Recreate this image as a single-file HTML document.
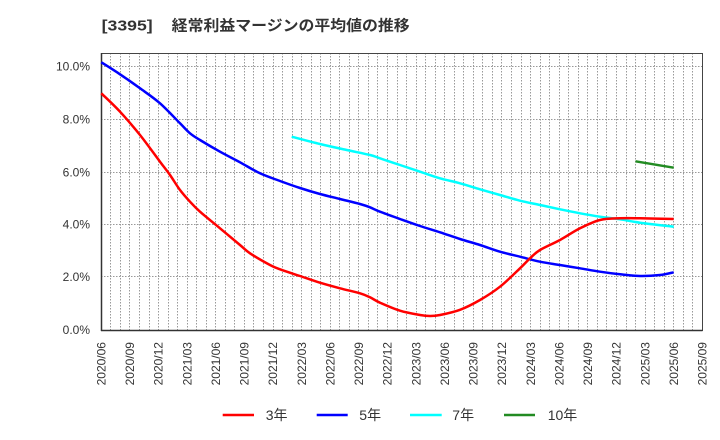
<!DOCTYPE html>
<html><head><meta charset="utf-8"><style>
html,body{margin:0;padding:0;background:#fff;}
svg{display:block;font-family:"Liberation Sans","Noto Sans CJK JP",sans-serif;}
</style></head><body>
<svg id="c" width="720" height="440" viewBox="0 0 720 440" xmlns="http://www.w3.org/2000/svg">
<rect width="720" height="440" fill="#fff"/>
<text x="101.7" y="30.5" font-size="15" font-weight="bold" fill="#333" textLength="51" lengthAdjust="spacingAndGlyphs">[3395]</text>
<text x="171.7" y="30.5" font-size="15" font-weight="bold" fill="#333" textLength="238" lengthAdjust="spacingAndGlyphs">経常利益マージンの平均値の推移</text>
<g stroke="#999" stroke-width="1" stroke-dasharray="1.5,1.5">
<path d="M110.5 53V330M120.5 53V330M129.5 53V330M139.5 53V330M149.5 53V330M158.5 53V330M168.5 53V330M177.5 53V330M187.5 53V330M196.5 53V330M206.5 53V330M215.5 53V330M225.5 53V330M234.5 53V330M244.5 53V330M253.5 53V330M263.5 53V330M273.5 53V330M282.5 53V330M292.5 53V330M301.5 53V330M311.5 53V330M320.5 53V330M330.5 53V330M339.5 53V330M349.5 53V330M358.5 53V330M368.5 53V330M377.5 53V330M387.5 53V330M397.5 53V330M406.5 53V330M416.5 53V330M425.5 53V330M435.5 53V330M444.5 53V330M454.5 53V330M463.5 53V330M473.5 53V330M482.5 53V330M492.5 53V330M501.5 53V330M511.5 53V330M521.5 53V330M530.5 53V330M540.5 53V330M549.5 53V330M559.5 53V330M568.5 53V330M578.5 53V330M587.5 53V330M597.5 53V330M606.5 53V330M616.5 53V330M626.5 53V330M635.5 53V330M645.5 53V330M654.5 53V330M664.5 53V330M673.5 53V330M683.5 53V330M692.5 53V330"/>
<path d="M101 276.5H702M101 224.5H702M101 172.5H702M101 119.5H702M101 66.5H702"/>
</g>
<rect x="101.5" y="53.5" width="601" height="277" fill="none" stroke="#444" stroke-width="1"/>
<path d="M101.5 53V331M101 330.5H702.5" stroke="#333" stroke-width="1.5" fill="none"/>
<g font-size="12" fill="#333" text-anchor="end">
<text x="90" y="334">0.0%</text>
<text x="90" y="281">2.0%</text>
<text x="90" y="228.5">4.0%</text>
<text x="90" y="176.5">6.0%</text>
<text x="90" y="123.5">8.0%</text>
<text x="90" y="70.5">10.0%</text>
</g>
<g font-size="12" fill="#333" text-anchor="end">
<text transform="translate(105.5,342) rotate(-90)">2020/06</text>
<text transform="translate(134.1,342) rotate(-90)">2020/09</text>
<text transform="translate(162.7,342) rotate(-90)">2020/12</text>
<text transform="translate(191.4,342) rotate(-90)">2021/03</text>
<text transform="translate(220,342) rotate(-90)">2021/06</text>
<text transform="translate(248.6,342) rotate(-90)">2021/09</text>
<text transform="translate(277.2,342) rotate(-90)">2021/12</text>
<text transform="translate(305.8,342) rotate(-90)">2022/03</text>
<text transform="translate(334.5,342) rotate(-90)">2022/06</text>
<text transform="translate(363.1,342) rotate(-90)">2022/09</text>
<text transform="translate(391.7,342) rotate(-90)">2022/12</text>
<text transform="translate(420.3,342) rotate(-90)">2023/03</text>
<text transform="translate(448.9,342) rotate(-90)">2023/06</text>
<text transform="translate(477.6,342) rotate(-90)">2023/09</text>
<text transform="translate(506.2,342) rotate(-90)">2023/12</text>
<text transform="translate(534.8,342) rotate(-90)">2024/03</text>
<text transform="translate(563.4,342) rotate(-90)">2024/06</text>
<text transform="translate(592,342) rotate(-90)">2024/09</text>
<text transform="translate(620.7,342) rotate(-90)">2024/12</text>
<text transform="translate(649.3,342) rotate(-90)">2025/03</text>
<text transform="translate(677.9,342) rotate(-90)">2025/06</text>
<text transform="translate(706.5,342) rotate(-90)">2025/09</text>
</g>
<g id="series" fill="none" stroke-width="2.5" stroke-linejoin="round" stroke-linecap="butt">
<polyline stroke="#00ffff" points="291.7,136.7 320,144 346.7,150 370,155 380,158.3 400,165 420,171.7 440,178.3 460,183.3 480,189.3 500,195 520,200.7 540,205 560,209.3 580,213.3 600,216.7 620,219.3 640,222.7 673.7,226.7"/>
<polyline stroke="#0000ff" points="101.3,62.3 120,74.3 140,88.3 160,103.3 180,123.3 190,133.3 200,140 220,151.7 240,162.3 260,173.3 280,181 300,188 320,194 340,199 360,204 370,207.3 380,211.7 400,219 420,226 440,232.3 460,239 480,245 500,251.7 520,256.7 540,261.7 560,265 580,268.3 600,271.7 620,274.3 640,276 660,275 673.7,272.3"/>
<polyline stroke="#ff0000" points="101.3,93.3 120,111.7 140,135 160,161.7 170,175 180,190 190,201.7 200,211.7 220,228.3 240,245 250,253.3 270,265 280,269.3 300,276 320,282.7 340,288.3 360,293.3 370,297.3 380,302.7 400,310.7 420,315 430,316 440,315 460,309.8 480,300 500,286.7 520,268.3 530,258.3 540,250 560,240 580,228.3 600,220 620,218.3 640,218.3 673.7,219"/>
<polyline stroke="#228b22" points="635.5,161.3 673.7,167.7"/>
</g>
<g stroke-width="2.5">
<line x1="222.7" y1="415" x2="254" y2="415" stroke="#ff0000"/>
<line x1="316.7" y1="415" x2="347.7" y2="415" stroke="#0000ff"/>
<line x1="410" y1="415" x2="441.7" y2="415" stroke="#00ffff"/>
<line x1="504" y1="415" x2="535" y2="415" stroke="#228b22"/>
</g>
<g font-size="14" fill="#333">
<text x="265.7" y="420">3年</text>
<text x="359.3" y="420">5年</text>
<text x="452.3" y="420">7年</text>
<text x="547.7" y="420">10年</text>
</g>
</svg>
<script>
(function(){
var NS="http://www.w3.org/2000/svg";
var pls=document.querySelectorAll("#series polyline");
for(var i=0;i<pls.length;i++){
var pl=pls[i];
var pts=pl.getAttribute("points").trim().split(/\s+/).map(function(s){var a=s.split(",");return [parseFloat(a[0]),parseFloat(a[1])];});
if(pts.length<3)continue;
var d="M"+pts[0][0]+" "+pts[0][1];
for(var k=0;k<pts.length-1;k++){
var p0=pts[k-1]||pts[k],p1=pts[k],p2=pts[k+1],p3=pts[k+2]||p2;
var c1x=p1[0]+(p2[0]-p0[0])/6,c1y=p1[1]+(p2[1]-p0[1])/6;
var c2x=p2[0]-(p3[0]-p1[0])/6,c2y=p2[1]-(p3[1]-p1[1])/6;
d+="C"+c1x.toFixed(2)+" "+c1y.toFixed(2)+" "+c2x.toFixed(2)+" "+c2y.toFixed(2)+" "+p2[0]+" "+p2[1];
}
var p=document.createElementNS(NS,"path");
p.setAttribute("d",d);
p.setAttribute("stroke",pl.getAttribute("stroke"));
pl.parentNode.replaceChild(p,pl);
}
})();
</script>
</body></html>
